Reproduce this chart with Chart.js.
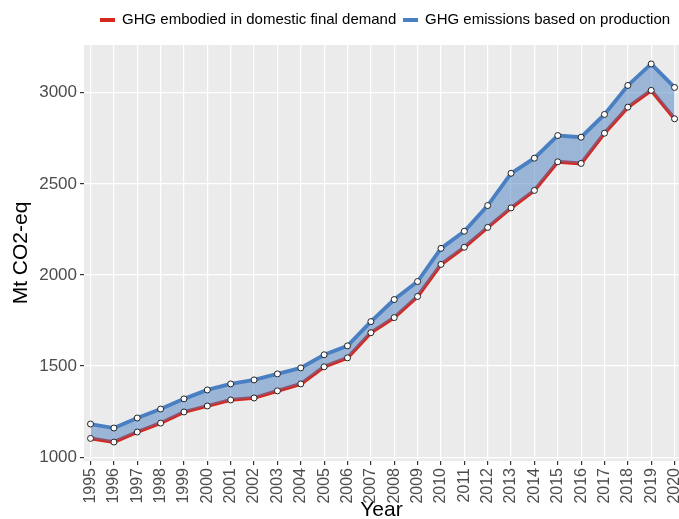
<!DOCTYPE html>
<html>
<head>
<meta charset="utf-8">
<script src="https://cdn.jsdelivr.net/npm/chart.js@4/dist/chart.umd.min.js"></script>
<style>
html,body{margin:0;padding:0;background:#fff;}
#wrap{width:679px;height:519px;position:relative;}
</style>
</head>
<body>
<div id="wrap"><canvas id="c" width="679" height="519"></canvas></div>
<script>
const years = [1995,1996,1997,1998,1999,2000,2001,2002,2003,2004,2005,2006,2007,2008,2009,2010,2011,2012,2013,2014,2015,2016,2017,2018,2019,2020];
const demand = [1103,1083,1138,1187,1248,1281,1314,1325,1364,1402,1496,1545,1683,1766,1882,2058,2152,2261,2368,2464,2621,2612,2778,2921,3013,2857];
const production = [1182,1160,1215,1264,1320,1369,1402,1424,1457,1490,1562,1611,1744,1865,1964,2146,2240,2381,2558,2641,2765,2756,2881,3040,3158,3029];
const seriesNames = ['GHG embodied in domestic final demand','GHG emissions based on production'];
const yTicks = [1000,1500,2000,2500,3000];

const RED = '#d7281e';
const BLUE = '#4a80c2';
const FONT = "'Liberation Sans', Arial, sans-serif";

const pts = arr => years.map((y,i)=>({x:y,y:arr[i]}));

const panelBg = {
  id:'panelBg',
  beforeDraw(chart){
    const {ctx, chartArea:a} = chart;
    ctx.save();
    ctx.fillStyle = '#ebebeb';
    ctx.fillRect(a.left, a.top, a.right-a.left, a.bottom-a.top);
    ctx.restore();
  }
};

const legendPlugin = {
  id:'customLegend',
  afterDraw(chart){
    const ctx = chart.ctx;
    ctx.save();
    ctx.font = '15px ' + FONT;
    ctx.textBaseline = 'middle';
    ctx.textAlign = 'left';
    const y = 20;
    const items = [{c:RED, t:seriesNames[0], x:100},{c:BLUE, t:seriesNames[1], x:403}];
    items.forEach(it=>{
      ctx.fillStyle = it.c;
      ctx.fillRect(it.x, y-2, 15, 4);
      ctx.fillStyle = '#000';
      ctx.fillText(it.t, it.x+22, y);
    });
    ctx.restore();
  }
};

new Chart(document.getElementById('c'), {
  type:'line',
  data:{
    datasets:[
      {label:seriesNames[0], data:pts(demand), borderColor:RED, borderWidth:3.8, pointRadius:0, fill:false, order:3, tension:0},
      {label:seriesNames[1], data:pts(production), borderColor:BLUE, borderWidth:3.8, pointRadius:0, fill:'-1', backgroundColor:'rgba(74,128,194,0.5)', order:2, tension:0},
      {label:'p1', data:pts(demand), showLine:false, pointRadius:3, pointBackgroundColor:'#ffffff', pointBorderColor:'#222', pointBorderWidth:1, order:1},
      {label:'p2', data:pts(production), showLine:false, pointRadius:3, pointBackgroundColor:'#ffffff', pointBorderColor:'#222', pointBorderWidth:1, order:0}
    ]
  },
  options:{
    responsive:false,
    animation:false,
    layout:{autoPadding:false, padding:{top:45,right:0,left:0,bottom:0}},
    plugins:{legend:{display:false}, tooltip:{enabled:false}},
    scales:{
      x:{
        type:'linear', min:1994.72, max:2020.19,
        grid:{color:'#ffffff', lineWidth:1.2, tickLength:4, tickColor:'#333333'},
        border:{display:false},
        ticks:{stepSize:1, includeBounds:false, maxRotation:90, minRotation:90, autoSkip:false,
          color:'#4d4d4d', font:{family:FONT, size:16}, padding:3,
          callback:v=>String(v)},
        title:{display:true, text:'Year', color:'#000', font:{family:FONT, size:21, lineHeight:1}, padding:{top:0,bottom:-2}},
        afterFit(s){ s.height = 58; s.paddingLeft = 0; s.paddingRight = 0; }
      },
      y:{
        type:'linear', min:979, max:3262,
        afterBuildTicks(s){ s.ticks = yTicks.map(v=>({value:v})); },
        grid:{color:'#ffffff', lineWidth:1.2, tickLength:4, tickColor:'#333333'},
        border:{display:false},
        ticks:{color:'#4d4d4d', font:{family:FONT, size:17}, padding:3, callback:v=>String(v)},
        title:{display:true, text:'Mt CO2-eq', color:'#000', font:{family:FONT, size:21, lineHeight:1}, padding:{top:11,bottom:0}},
        afterFit(s){ s.width = 84; s.paddingTop = 0; s.paddingBottom = 0; }
      }
    }
  },
  plugins:[panelBg, legendPlugin]
});
</script>
</body>
</html>
